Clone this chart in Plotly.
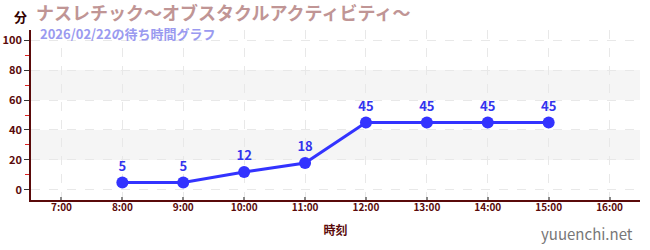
import plotly.graph_objects as go

times = ["8:00", "9:00", "10:00", "11:00", "12:00", "13:00", "14:00", "15:00"]
waits = [5, 5, 12, 18, 45, 45, 45, 45]
tick_labels = ["7:00", "8:00", "9:00", "10:00", "11:00", "12:00", "13:00", "14:00", "15:00", "16:00"]
y_ticks = [0, 20, 40, 60, 80, 100]
title_text = "ナスレチック〜オブスタクルアクティビティ〜"
subtitle_text = "2026/02/22の待ち時間グラフ"

def to_hour(t):
    h, m = t.split(":")
    return int(h) + int(m) / 60

xs = [to_hour(t) for t in times]
tick_vals = [to_hour(t) for t in tick_labels]

FONT = "Noto Sans CJK JP"
AXC = "#5a0a0a"

fig = go.Figure()
fig.add_trace(go.Scatter(
    x=xs, y=waits, mode="lines+markers+text",
    line=dict(color="#3333ff", width=3),
    marker=dict(color="#3333ff", size=12),
    text=[str(v) for v in waits], textposition="top center",
    textfont=dict(color="#3333ee", size=13, family=FONT, weight="bold"),
    cliponaxis=False, hoverinfo="skip",
))

for lo, hi in [(20, 40), (60, 80)]:
    fig.add_shape(type="rect", xref="paper", x0=0, x1=1, yref="y", y0=lo, y1=hi,
                  fillcolor="#f5f5f5", line_width=0, layer="below")

fig.update_layout(
    width=650, height=250,
    margin=dict(l=31, r=10, t=30, b=50, autoexpand=False),
    paper_bgcolor="white", plot_bgcolor="white",
    showlegend=False,
    font=dict(family=FONT, color=AXC),
    xaxis=dict(
        range=[6.5, 16.5], tickvals=tick_vals, ticktext=tick_labels,
        showgrid=True, gridcolor="#e8e8e8", griddash="dash", gridwidth=1,
        showline=True, linecolor=AXC, linewidth=1.5,
        ticks="inside", tickcolor="#888888", ticklen=3, tickwidth=2,
        ticklabelstandoff=-3,
        tickfont=dict(size=10, color=AXC, family=FONT, weight="bold"),
        title=dict(text="時刻", font=dict(size=12, color=AXC, family=FONT, weight="bold"), standoff=14),
        zeroline=False, fixedrange=True, automargin=False,
    ),
    yaxis=dict(
        range=[-6.7, 106.7], tickvals=y_ticks,
        showgrid=True, gridcolor="#e8e8e8", griddash="dash", gridwidth=1,
        showline=True, linecolor=AXC, linewidth=1.5,
        ticks="outside", tickcolor="#333333", ticklen=5,
        tickfont=dict(size=11, color=AXC, family=FONT, weight="bold"),
        minor=dict(tickvals=[10, 30, 50, 70, 90], ticks="outside", ticklen=4, tickcolor="#dd2222", showgrid=False),
        zeroline=False, fixedrange=True, automargin=False,
    ),
)

fig.add_annotation(text=title_text, xref="paper", yref="paper", x=0, xshift=4, y=1, yshift=18,
                   xanchor="left", yanchor="middle", showarrow=False, borderpad=0,
                   font=dict(size=18, color="#c09595", family=FONT, weight="bold"))
fig.add_annotation(text=subtitle_text, xref="paper", yref="paper", x=0, xshift=8, y=1, yshift=-3,
                   xanchor="left", yanchor="middle", showarrow=False, borderpad=0,
                   font=dict(size=13, color="#9a9af0", family=FONT, weight="bold"))
fig.add_annotation(text="分", xref="paper", yref="paper", x=0, xshift=-11, y=1, yshift=14,
                   xanchor="center", yanchor="middle", showarrow=False,
                   font=dict(size=13, color="#330000", family=FONT, weight="bold"))
fig.add_annotation(text="yuuenchi.net", xref="paper", yref="paper", x=1, xshift=-5, y=0, yshift=-33,
                   xanchor="right", yanchor="middle", showarrow=False,
                   font=dict(size=15, color="#777777", family=FONT))

fig.write_html("out.html")
